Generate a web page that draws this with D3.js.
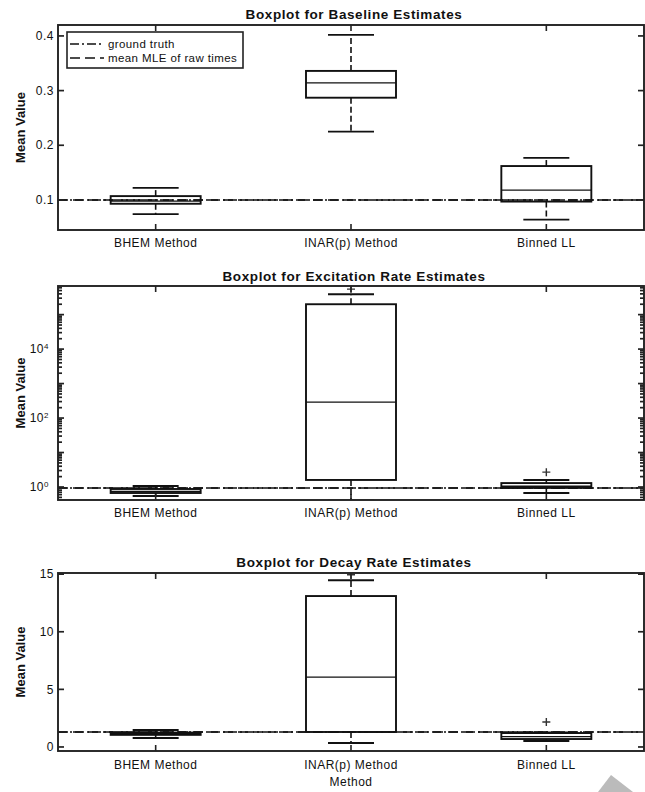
<!DOCTYPE html>
<meta charset="utf-8" />
<html>
<head>
<title>Boxplots</title>
<script src="https://cdn.jsdelivr.net/npm/d3@7"></script>
<style>
    body { margin: 0; background: #fff; }
    text { font-family: "Liberation Sans", Arial, sans-serif; fill: #111; }
    .title { font-weight: bold; font-size: 13.5px; letter-spacing: 0.6px; }
    .tick-label { font-size: 12px; letter-spacing: 0.5px; }
    .ylab { font-size: 13px; font-weight: bold; }
</style>
</head>
<body>
<script>
// categories
var methods = ["BHEM Method", "INAR(p) Method", "Binned LL"];

// [lower whisker, q1, median, q3, upper whisker] per method
var baselineStats = [
    [0.074, 0.093, 0.098, 0.107, 0.122],
    [0.225, 0.287, 0.314, 0.336, 0.402],
    [0.064, 0.097, 0.118, 0.162, 0.177]
];
var baselineOutliers = [[], [], []];
var baselineTruth = 0.1, baselineMLE = 0.1;
var baselineTicks = [0.1, 0.2, 0.3, 0.4];

var excitationStats = [
    [0.55, 0.67, 0.75, 0.875, 1.07],
    [0.4, 1.6, 290, 200000, 390000],
    [0.67, 0.94, 1.05, 1.3, 1.6]
];
var excitationOutliers = [[], [550000], [2.7]];
var excitationTruth = 0.94, excitationMLE = 0.94;
var excitationTicks = [1, 100, 10000];

var decayStats = [
    [0.78, 1.05, 1.15, 1.25, 1.47],
    [0.35, 1.3, 6.07, 13.1, 14.47],
    [0.52, 0.69, 0.9, 1.21, 1.25]
];
var decayOutliers = [[], [14.95], [2.17]];
var decayTruth = 1.3, decayMLE = 1.3;
var decayTicks = [0, 5, 10, 15];

var width = 645, height = 792;
var left = 58, right = 644;

var svg = d3.select("body").append("svg")
    .attr("width", width)
    .attr("height", height);

svg.append("rect").attr("width", width).attr("height", height).attr("fill", "#fff");

var x = d3.scalePoint().domain(methods).range([left, right]).padding(0.5);

var panels = [
    { id: "p1", title: "Boxplot for Baseline Estimates", top: 25, bottom: 230, log: false,
      domain: [0.045, 0.42], stats: baselineStats, outliers: baselineOutliers,
      truth: baselineTruth, mle: baselineMLE, ticks: baselineTicks, titleY: 14, labelY: 243, legend: true },
    { id: "p2", title: "Boxplot for Excitation Rate Estimates", top: 286, bottom: 500, log: true,
      domain: [Math.pow(10, -0.377), Math.pow(10, 5.83)], stats: excitationStats, outliers: excitationOutliers,
      truth: excitationTruth, mle: excitationMLE, ticks: excitationTicks, titleY: 276, labelY: 513 },
    { id: "p3", title: "Boxplot for Decay Rate Estimates", top: 573, bottom: 751, log: false,
      domain: [-0.35, 15.1], stats: decayStats, outliers: decayOutliers,
      truth: decayTruth, mle: decayMLE, ticks: decayTicks, titleY: 562, labelY: 765 }
];

panels.forEach(function (p) {
    var y = (p.log ? d3.scaleLog() : d3.scaleLinear())
        .domain(p.domain)
        .range([p.bottom, p.top]);

    var g = svg.append("g");

    svg.append("clipPath").attr("id", "clip-" + p.id)
        .append("rect")
        .attr("x", left).attr("y", p.top)
        .attr("width", right - left).attr("height", p.bottom - p.top);

    var plot = g.append("g").attr("clip-path", "url(#clip-" + p.id + ")");

    // reference lines
    plot.append("line")
        .attr("x1", left).attr("x2", right)
        .attr("y1", y(p.mle)).attr("y2", y(p.mle))
        .attr("stroke", "#111").attr("stroke-width", 1.5)
        .attr("stroke-dasharray", "10,5");
    plot.append("line")
        .attr("x1", left).attr("x2", right)
        .attr("y1", y(p.truth)).attr("y2", y(p.truth))
        .attr("stroke", "#111").attr("stroke-width", 1.5)
        .attr("stroke-dasharray", "9,3,2,3");

    // boxes
    var box = plot.selectAll(".box")
        .data(p.stats)
        .enter()
        .append("g")
        .attr("class", "box");

    var bw = 45, cw = 23;

    box.append("line") // upper whisker
        .attr("x1", (d, i) => x(methods[i])).attr("x2", (d, i) => x(methods[i]))
        .attr("y1", d => y(d[3])).attr("y2", d => y(d[4]))
        .attr("stroke", "#111").attr("stroke-width", 1.6)
        .attr("stroke-dasharray", "6,3");
    box.append("line") // lower whisker
        .attr("x1", (d, i) => x(methods[i])).attr("x2", (d, i) => x(methods[i]))
        .attr("y1", d => y(d[1])).attr("y2", d => y(d[0]))
        .attr("stroke", "#111").attr("stroke-width", 1.6)
        .attr("stroke-dasharray", "6,3");
    [0, 4].forEach(function (k) { // caps
        box.append("line")
            .attr("x1", (d, i) => x(methods[i]) - cw).attr("x2", (d, i) => x(methods[i]) + cw)
            .attr("y1", d => y(d[k])).attr("y2", d => y(d[k]))
            .attr("stroke", "#111").attr("stroke-width", 1.9);
    });
    box.append("rect")
        .attr("x", (d, i) => x(methods[i]) - bw)
        .attr("width", bw * 2)
        .attr("y", d => y(d[3]))
        .attr("height", d => Math.max(1, y(d[1]) - y(d[3])))
        .attr("fill", "none")
        .attr("stroke", "#111").attr("stroke-width", 1.9);
    box.append("line") // median
        .attr("x1", (d, i) => x(methods[i]) - bw).attr("x2", (d, i) => x(methods[i]) + bw)
        .attr("y1", d => y(d[2])).attr("y2", d => y(d[2]))
        .attr("stroke", "#111").attr("stroke-width", 1.3);

    // outliers as "+"
    p.outliers.forEach(function (list, i) {
        list.forEach(function (v) {
            var cx = x(methods[i]), cy = y(v);
            plot.append("path")
                .attr("d", "M" + (cx - 4) + "," + cy + "H" + (cx + 4) + "M" + cx + "," + (cy - 4) + "V" + (cy + 4))
                .attr("stroke", "#333").attr("stroke-width", 1.4);
        });
    });

    // frame
    g.append("rect")
        .attr("x", left).attr("y", p.top)
        .attr("width", right - left).attr("height", p.bottom - p.top)
        .attr("fill", "none").attr("stroke", "#222").attr("stroke-width", 1.9);

    // y ticks on both sides, pointing inward
    var tickLen = 6;
    var yTicks = [];
    if (p.log) {
        for (var e = -1; e <= 5; e++) {
            for (var m = 1; m <= 9; m++) {
                var v = m * Math.pow(10, e);
                if (v >= p.domain[0] && v <= p.domain[1]) yTicks.push({ v: v, len: m === 1 ? tickLen : 4 });
            }
        }
    } else {
        p.ticks.forEach(function (v) { yTicks.push({ v: v, len: tickLen }); });
    }
    yTicks.forEach(function (t) {
        g.append("line")
            .attr("x1", left).attr("x2", left + t.len)
            .attr("y1", y(t.v)).attr("y2", y(t.v))
            .attr("stroke", "#222").attr("stroke-width", 1.7);
        g.append("line")
            .attr("x1", right).attr("x2", right - t.len)
            .attr("y1", y(t.v)).attr("y2", y(t.v))
            .attr("stroke", "#222").attr("stroke-width", 1.7);
    });

    // y tick labels
    p.ticks.forEach(function (v) {
        var t = g.append("text")
            .attr("class", "tick-label")
            .attr("x", left - 4)
            .attr("y", y(v))
            .attr("dy", "0.35em")
            .attr("text-anchor", "end");
        if (p.log) {
            t.attr("x", left - 9);
            t.append("tspan").text("10");
            t.append("tspan").attr("dy", "-0.5em").attr("font-size", "8px").text(Math.round(Math.log10(v)));
        } else {
            t.text(v === 0 ? "0" : (p.id === "p1" ? v.toFixed(1) : String(v)));
        }
    });

    // x ticks top and bottom
    methods.forEach(function (m) {
        g.append("line")
            .attr("x1", x(m)).attr("x2", x(m))
            .attr("y1", p.bottom).attr("y2", p.bottom - tickLen)
            .attr("stroke", "#222").attr("stroke-width", 1.6);
        g.append("line")
            .attr("x1", x(m)).attr("x2", x(m))
            .attr("y1", p.top).attr("y2", p.top + tickLen)
            .attr("stroke", "#222").attr("stroke-width", 1.6);
        g.append("text")
            .attr("class", "tick-label")
            .attr("x", x(m))
            .attr("y", p.labelY)
            .attr("dy", "0.35em")
            .attr("text-anchor", "middle")
            .text(m);
    });

    // title and y label
    g.append("text")
        .attr("class", "title")
        .attr("x", (left + right) / 2 + 3)
        .attr("y", p.titleY)
        .attr("dy", "0.35em")
        .attr("text-anchor", "middle")
        .text(p.title);

    g.append("text")
        .attr("class", "ylab")
        .attr("transform", "translate(20," + (p.top + p.bottom) / 2 + ") rotate(-90)")
        .attr("dy", "0.35em")
        .attr("text-anchor", "middle")
        .text("Mean Value");

    // legend
    if (p.legend) {
        var lg = g.append("g");
        lg.append("rect")
            .attr("x", 67).attr("y", 32)
            .attr("width", 176).attr("height", 36)
            .attr("fill", "#fff").attr("stroke", "#222").attr("stroke-width", 1.6);
        var items = [
            { label: "ground truth", dash: "9,3,2,3", yy: 44 },
            { label: "mean MLE of raw times", dash: "10,5", yy: 58 }
        ];
        items.forEach(function (it) {
            lg.append("line")
                .attr("x1", 70).attr("x2", 104)
                .attr("y1", it.yy).attr("y2", it.yy)
                .attr("stroke", "#111").attr("stroke-width", 1.6)
                .attr("stroke-dasharray", it.dash);
            lg.append("text")
                .attr("x", 108).attr("y", it.yy)
                .attr("dy", "0.35em")
                .attr("font-size", "11.5px")
                .attr("letter-spacing", "0.4px")
                .text(it.label);
        });
    }
});

// x axis label
svg.append("text")
    .attr("class", "tick-label")
    .attr("x", x(methods[1]))
    .attr("y", 782)
    .attr("dy", "0.35em")
    .attr("text-anchor", "middle")
    .text("Method");

// grey watermark arrow in the corner
svg.append("path")
    .attr("d", "M598,792L611,775L633,792Z")
    .attr("fill", "#bbb");
</script>
</body>
</html>
